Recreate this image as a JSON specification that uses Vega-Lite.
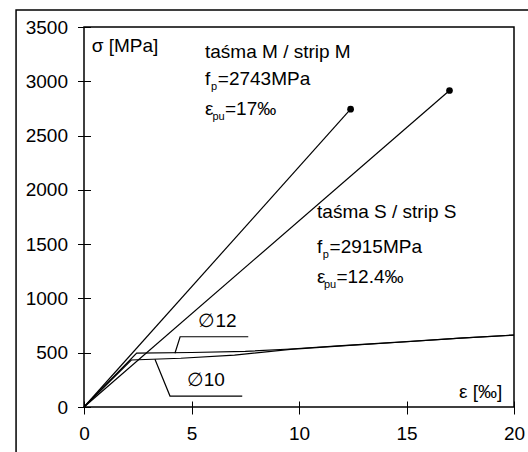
{
  "$schema": "https://vega.github.io/schema/vega-lite/v6.json",
  "width": 430,
  "height": 380,
  "autosize": {"type": "none"},
  "padding": {"left": 84, "top": 27, "right": 14, "bottom": 45},
  "background": "white",
  "config": {
    "font": "Liberation Sans",
    "view": {"stroke": "black", "strokeWidth": 1.5},
    "axis": {"domain": false, "grid": false, "tickColor": "black", "labelColor": "black", "labelFont": "Liberation Sans", "labelFontSize": 19, "title": null, "tickWidth": 1}
  },
  "datasets": {
    "frame": [{"x": -3.16, "x2": 30, "y": -2000, "y2": 3656}],
    "lines": [
      {"series": "M", "o": 0, "eps": 0, "sigma": 0},
      {"series": "M", "o": 1, "eps": 12.4, "sigma": 2743},
      {"series": "S", "o": 0, "eps": 0, "sigma": 0},
      {"series": "S", "o": 1, "eps": 17, "sigma": 2915},
      {"series": "d12", "o": 0, "eps": 0, "sigma": 0},
      {"series": "d12", "o": 1, "eps": 2.45, "sigma": 497},
      {"series": "d12", "o": 2, "eps": 5, "sigma": 502},
      {"series": "d12", "o": 3, "eps": 7.5, "sigma": 512},
      {"series": "d12", "o": 4, "eps": 9.6, "sigma": 534},
      {"series": "d12", "o": 5, "eps": 12, "sigma": 565},
      {"series": "d12", "o": 6, "eps": 15, "sigma": 603},
      {"series": "d12", "o": 7, "eps": 17.5, "sigma": 635},
      {"series": "d12", "o": 8, "eps": 20, "sigma": 663},
      {"series": "d10", "o": 0, "eps": 0, "sigma": 0},
      {"series": "d10", "o": 1, "eps": 2.2, "sigma": 433},
      {"series": "d10", "o": 2, "eps": 4.5, "sigma": 449},
      {"series": "d10", "o": 3, "eps": 7, "sigma": 478},
      {"series": "d10", "o": 4, "eps": 9.6, "sigma": 531},
      {"series": "d10", "o": 5, "eps": 12, "sigma": 563},
      {"series": "d10", "o": 6, "eps": 15, "sigma": 601},
      {"series": "d10", "o": 7, "eps": 17.5, "sigma": 634},
      {"series": "d10", "o": 8, "eps": 20, "sigma": 662},
      {"series": "lead12", "o": 0, "eps": 4.23, "sigma": 495},
      {"series": "lead12", "o": 1, "eps": 4.47, "sigma": 647},
      {"series": "lead12", "o": 2, "eps": 7.64, "sigma": 647},
      {"series": "lead10", "o": 0, "eps": 3.3, "sigma": 440},
      {"series": "lead10", "o": 1, "eps": 4.0, "sigma": 101},
      {"series": "lead10", "o": 2, "eps": 7.36, "sigma": 101}
    ],
    "ends": [
      {"eps": 12.4, "sigma": 2743},
      {"eps": 17, "sigma": 2915}
    ],
    "texts": [
      {"label": "σ [MPa]", "x": 0.36, "y": 3270},
      {"label": "taśma M / strip M", "x": 5.628, "y": 3211},
      {"label": "f", "x": 5.628, "y": 2966},
      {"label": "=2743MPa", "x": 6.223, "y": 2966},
      {"label": "ε", "x": 5.628, "y": 2689},
      {"label": "=17‰", "x": 6.558, "y": 2689},
      {"label": "taśma S / strip S", "x": 10.84, "y": 1738},
      {"label": "f", "x": 10.84, "y": 1416},
      {"label": "=2915MPa", "x": 11.42, "y": 1416},
      {"label": "ε", "x": 10.84, "y": 1139},
      {"label": "=12.4‰", "x": 11.74, "y": 1139},
      {"label": "∅12", "x": 5.32, "y": 740},
      {"label": "∅10", "x": 4.78, "y": 193}
    ],
    "subs": [
      {"label": "p", "x": 5.907, "y": 2924},
      {"label": "pu", "x": 5.977, "y": 2643},
      {"label": "p", "x": 11.1, "y": 1374},
      {"label": "pu", "x": 11.16, "y": 1093}
    ],
    "axislabel": [
      {"label": "ε [‰]", "x": 19.46, "y": 80}
    ]
  },
  "layer": [
    {
      "data": {"name": "frame"},
      "mark": {"type": "rect", "fill": null, "fillOpacity": 0, "stroke": "black", "strokeWidth": 1.5, "clip": false},
      "encoding": {
        "x": {"field": "x", "type": "quantitative", "scale": {"domain": [0, 20], "nice": false, "zero": false}, "axis": {"values": [0, 5, 10, 15, 20], "format": "d", "orient": "bottom", "offset": -6, "tickSize": 13, "labelPadding": 10, "labelFlush": false}},
        "x2": {"field": "x2"},
        "y": {"field": "y", "type": "quantitative", "scale": {"domain": [0, 3500], "nice": false, "zero": false}, "axis": {"values": [0, 500, 1000, 1500, 2000, 2500, 3000, 3500], "format": "d", "orient": "left", "offset": -6.5, "tickSize": 13, "labelPadding": 10}},
        "y2": {"field": "y2"}
      }
    },
    {
      "data": {"name": "lines"},
      "mark": {"type": "line", "color": "black", "strokeWidth": 1.2},
      "encoding": {
        "x": {"field": "eps", "type": "quantitative"},
        "y": {"field": "sigma", "type": "quantitative"},
        "detail": {"field": "series"},
        "order": {"field": "o"}
      }
    },
    {
      "data": {"name": "ends"},
      "mark": {"type": "point", "filled": true, "color": "black", "size": 45, "opacity": 1},
      "encoding": {
        "x": {"field": "eps", "type": "quantitative"},
        "y": {"field": "sigma", "type": "quantitative"}
      }
    },
    {
      "data": {"name": "texts"},
      "mark": {"type": "text", "align": "left", "baseline": "alphabetic", "fontSize": 19, "color": "black"},
      "encoding": {
        "x": {"field": "x", "type": "quantitative"},
        "y": {"field": "y", "type": "quantitative"},
        "text": {"field": "label"}
      }
    },
    {
      "data": {"name": "subs"},
      "mark": {"type": "text", "align": "left", "baseline": "alphabetic", "fontSize": 11, "color": "black"},
      "encoding": {
        "x": {"field": "x", "type": "quantitative"},
        "y": {"field": "y", "type": "quantitative"},
        "text": {"field": "label"}
      }
    },
    {
      "data": {"name": "axislabel"},
      "mark": {"type": "text", "align": "right", "baseline": "alphabetic", "fontSize": 19, "color": "black"},
      "encoding": {
        "x": {"field": "x", "type": "quantitative"},
        "y": {"field": "y", "type": "quantitative"},
        "text": {"field": "label"}
      }
    }
  ]
}
